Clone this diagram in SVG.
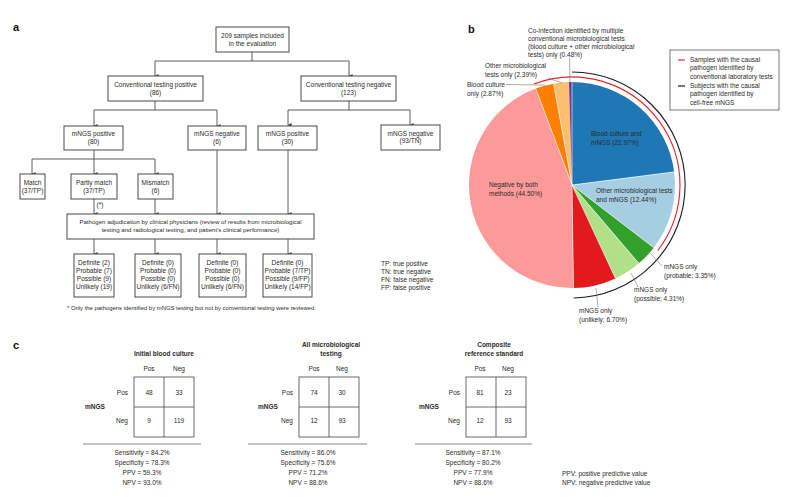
<svg xmlns="http://www.w3.org/2000/svg" width="786" height="497" viewBox="0 0 786 497">
<defs>
<marker id="ah" markerWidth="4" markerHeight="4" refX="2" refY="3.6" orient="auto-start-reverse" markerUnits="userSpaceOnUse" viewBox="0 0 4 4">
<path d="M0,0 L4,0 L2,4 Z" fill="#444"/>
</marker>
<style>
text{font-family:"Liberation Sans",Arial,sans-serif;fill:#2a2a2a}
.t{font-size:6.5px}
.a6{font-size:6.1px}
.s{font-size:5.9px}
.m{text-anchor:middle}
.e{text-anchor:end}
.b{font-weight:bold}
.lab{font-size:11px;font-weight:bold;fill:#111}
.box{fill:#fff;stroke:#4a4a4a;stroke-width:1}
.cn{fill:none;stroke:#4a4a4a;stroke-width:0.9}
.ar{marker-end:url(#ah)}
.ld{fill:none;stroke:#777;stroke-width:0.6}
.tb{fill:#fff;stroke:#444;stroke-width:0.8}
.hl{stroke:#8a8a8a;stroke-width:1.2}
</style>
</defs>
<rect width="786" height="497" fill="#fff"/>

<!-- Panel a -->
<text class="lab" x="13" y="31">a</text>
<g id="connectors">
<path class="cn" d="M252,52 V61 M155,61 H349"/>
<path class="cn ar" d="M155,61 V76"/>
<path class="cn ar" d="M349,61 V76"/>
<path class="cn" d="M155,101 V110 M94,110 H217"/>
<path class="cn ar" d="M94,110 V126"/>
<path class="cn ar" d="M217,110 V126"/>
<path class="cn" d="M349,101 V110 M288,110 H410"/>
<path class="cn ar" d="M288,110 V125"/>
<path class="cn ar" d="M410,110 V125"/>
<path class="cn" d="M94,150 V159 M32,159 H155"/>
<path class="cn ar" d="M32,159 V174"/>
<path class="cn ar" d="M94,159 V174"/>
<path class="cn ar" d="M155,159 V174"/>
<path class="cn ar" d="M94,199 V214"/>
<path class="cn ar" d="M155,199 V214"/>
<path class="cn ar" d="M217,150 V214"/>
<path class="cn ar" d="M288,150 V214"/>
<path class="cn ar" d="M94,239 V254"/>
<path class="cn ar" d="M155,239 V254"/>
<path class="cn ar" d="M217,239 V254"/>
<path class="cn ar" d="M288,239 V254"/>
</g>
<g id="n-total"><rect class="box" x="216" y="27" width="73" height="25"/>
<text class="t m" x="252.5" y="38">209 samples included</text><text class="t m" x="252.5" y="45.5">in the evaluation</text></g>
<g id="n-conv-pos"><rect class="box" x="108" y="76" width="95" height="25"/>
<text class="t m" x="155.5" y="86.5">Conventional testing positive</text><text class="t m" x="155.5" y="94.5">(86)</text></g>
<g id="n-conv-neg"><rect class="box" x="301" y="76" width="95" height="25"/>
<text class="t m" x="348.5" y="86.5">Conventional testing negative</text><text class="t m" x="348.5" y="94.5">(123)</text></g>
<g id="n-mngs-pos80"><rect class="box" x="64" y="126" width="59" height="24"/>
<text class="t m" x="93.5" y="136">mNGS positive</text><text class="t m" x="93.5" y="143.5">(80)</text></g>
<g id="n-mngs-neg6"><rect class="box" x="188" y="126" width="58" height="24"/>
<text class="t m" x="217" y="136">mNGS negative</text><text class="t m" x="217" y="143.5">(6)</text></g>
<g id="n-mngs-pos30"><rect class="box" x="258" y="126" width="59" height="24"/>
<text class="t m" x="287.5" y="136">mNGS positive</text><text class="t m" x="287.5" y="143.5">(30)</text></g>
<g id="n-mngs-neg93"><rect class="box" x="381" y="125" width="59" height="25"/>
<text class="t m" x="410.5" y="135.5">mNGS negative</text><text class="t m" x="410.5" y="143">(93/TN)</text></g>
<g id="n-match"><rect class="box" x="20" y="174" width="25" height="25"/>
<text class="t m" x="32.5" y="185">Match</text><text class="t m" x="32.5" y="192.5">(37/TP)</text></g>
<g id="n-partly"><rect class="box" x="71" y="174" width="46" height="25"/>
<text class="t m" x="94" y="185">Partly match</text><text class="t m" x="94" y="192.5">(37/TP)</text></g>
<g id="n-mismatch"><rect class="box" x="138" y="174" width="35" height="25"/>
<text class="t m" x="155.5" y="185">Mismatch</text><text class="t m" x="155.5" y="192.5">(6)</text></g>
<text class="t" x="96.5" y="207">(*)</text>
<g id="n-adjudication"><rect class="box" x="67" y="214" width="247" height="25"/>
<text class="a6 m" x="190.5" y="224">Pathogen adjudication by clinical physicians (review of results from microbiological</text>
<text class="a6 m" x="190.5" y="232">testing and radiological testing, and patient's clinical performance)</text></g>
<g id="n-res1"><rect class="box" x="74" y="254" width="40" height="43"/>
<text class="t m" x="94" y="265">Definite (2)</text><text class="t m" x="94" y="273">Probable (7)</text><text class="t m" x="94" y="281">Possible (9)</text><text class="t m" x="94" y="289">Unlikely (19)</text></g>
<g id="n-res2"><rect class="box" x="135" y="254" width="46" height="43"/>
<text class="t m" x="158" y="265">Definite (0)</text><text class="t m" x="158" y="273">Probable (0)</text><text class="t m" x="158" y="281">Possible (0)</text><text class="t m" x="158" y="289">Unlikely (6/FN)</text></g>
<g id="n-res3"><rect class="box" x="199" y="254" width="47" height="43"/>
<text class="t m" x="222.5" y="265">Definite (0)</text><text class="t m" x="222.5" y="273">Probable (0)</text><text class="t m" x="222.5" y="281">Possible (0)</text><text class="t m" x="222.5" y="289">Unlikely (6/FN)</text></g>
<g id="n-res4"><rect class="box" x="263" y="254" width="49" height="43"/>
<text class="t m" x="287.5" y="265">Definite (0)</text><text class="t m" x="287.5" y="273">Probable (7/TP)</text><text class="t m" x="287.5" y="281">Possible (9/FP)</text><text class="t m" x="287.5" y="289">Unlikely (14/FP)</text></g>
<text class="s" x="67" y="310">* Only the pathogens identified by mNGS testing but not by conventional testing were reviewed.</text>
<g id="abbrev-a">
<text class="t" x="381" y="265.5">TP: true positive</text>
<text class="t" x="381" y="273.5">TN: true negative</text>
<text class="t" x="381" y="281.5">FN: false negative</text>
<text class="t" x="381" y="289.5">FP: false positive</text>
</g>

<!-- Panel b -->
<text class="lab" x="468" y="33">b</text>
<g id="pie">
<path d="M572,185 L572,82 A103,103 0 0 1 674.16,171.90 Z" fill="#1f78b4"/>
<path d="M572,185 L674.16,171.90 A103,103 0 0 1 653.74,247.67 Z" fill="#a6cee3"/>
<path d="M572,185 L653.74,247.67 A103,103 0 0 1 638.84,263.37 Z" fill="#33a02c"/>
<path d="M572,185 L638.84,263.37 A103,103 0 0 1 615.45,278.39 Z" fill="#b2df8a"/>
<path d="M572,185 L615.45,278.39 A103,103 0 0 1 573.49,287.99 Z" fill="#e31a1c"/>
<path d="M572,185 L573.49,287.99 A103,103 0 0 1 535.72,88.60 Z" fill="#fb9a99"/>
<path d="M572,185 L535.72,88.60 A103,103 0 0 1 553.59,83.66 Z" fill="#ff7f00"/>
<path d="M572,185 L553.59,83.66 A103,103 0 0 1 568.96,82.05 Z" fill="#fdbf6f"/>
<path d="M572,185 L568.96,82.05 A103,103 0 0 1 572,82 Z" fill="#6a3d9a"/>
<path d="M572,185 L674.16,171.90 M572,185 L653.74,247.67 M572,185 L638.84,263.37 M572,185 L615.45,278.39 M572,185 L573.49,287.99 M572,185 L535.72,88.60 M572,185 L553.59,83.66 M572,185 L572,82" stroke="#fff" stroke-width="0.6" fill="none"/>
</g>
<g id="arcs">
<path d="M533.96,83.92 A108,108 0 0 1 657.71,250.71" fill="none" stroke="#e8242a" stroke-width="1.1"/>
<path d="M572,72 A113,113 0 0 1 573.63,297.99" fill="none" stroke="#1a1a1a" stroke-width="1.1"/>
</g>
<g id="pie-labels">
<text class="t" x="591" y="136">Blood culture and</text>
<text class="t" x="591" y="145">mNGS (22.97%)</text>
<text class="t" x="596" y="193">Other microbiological tests</text>
<text class="t" x="596" y="201.5">and mNGS (12.44%)</text>
<text class="t" x="489" y="187">Negative by both</text>
<text class="t" x="489" y="195.5">methods (44.50%)</text>
<path class="ld" d="M650,253 L662,266"/>
<text class="t" x="664" y="269">mNGS only</text>
<text class="t" x="664" y="277.5">(probable; 3.35%)</text>
<path class="ld" d="M631,273 L638,287"/>
<text class="t" x="634" y="292">mNGS only</text>
<text class="t" x="634" y="300.5">(possible; 4.31%)</text>
<path class="ld" d="M596,288 L598,307"/>
<text class="t" x="579" y="313">mNGS only</text>
<text class="t" x="579" y="321.5">(unlikely; 6.70%)</text>
<path class="ld" d="M506,84.5 L545,85"/>
<text class="t" x="467" y="87">Blood culture</text>
<text class="t" x="467" y="96">only (2.87%)</text>
<path class="ld" d="M548,78 L562,83"/>
<text class="t" x="485" y="68">Other microbiological</text>
<text class="t" x="485" y="76.5">tests only (2.39%)</text>
<path class="ld" d="M569.5,58 L570,82"/>
<text class="t" x="528" y="33">Co-infection identified by multiple</text>
<text class="t" x="528" y="41">conventional microbiological tests</text>
<text class="t" x="528" y="49">(blood culture + other microbiological</text>
<text class="t" x="528" y="57">tests) only (0.48%)</text>
</g>
<g id="legend-b">
<rect x="670" y="50" width="109" height="60" fill="#fff" stroke="#555" stroke-width="0.8"/>
<path d="M678,60 H685" stroke="#e8242a" stroke-width="1.2"/>
<text class="t" x="690" y="62">Samples with the causal</text>
<text class="t" x="690" y="70">pathogen identified by</text>
<text class="t" x="690" y="78.5">conventional laboratory tests</text>
<path d="M678,86 H685" stroke="#1a1a1a" stroke-width="1.2"/>
<text class="t" x="690" y="88">Subjects with the causal</text>
<text class="t" x="690" y="96">pathogen identified by</text>
<text class="t" x="690" y="104.5">cell-free mNGS</text>
</g>

<!-- Panel c -->
<text class="lab" x="13" y="349">c</text>
<g id="table-1">
<text class="t b m" x="164" y="356">Initial blood culture</text>
<text class="t m" x="149" y="371">Pos</text><text class="t m" x="179" y="371">Neg</text>
<rect class="tb" x="134" y="377" width="60" height="60"/>
<path d="M164,377 V437 M134,407 H194" stroke="#444" stroke-width="0.8"/>
<text class="t e" x="128" y="395">Pos</text><text class="t e" x="128" y="423">Neg</text>
<text class="t b" x="85" y="408.5">mNGS</text>
<text class="t m" x="149" y="395">48</text><text class="t m" x="179" y="395">33</text>
<text class="t m" x="149" y="423">9</text><text class="t m" x="179" y="423">119</text>
<path class="hl" d="M83,444 H201"/>
<text class="t m" x="142" y="455">Sensitivity = 84.2%</text>
<text class="t m" x="142" y="465">Specificity = 78.3%</text>
<text class="t m" x="142" y="475">PPV = 59.3%</text>
<text class="t m" x="142" y="485">NPV = 93.0%</text>
</g>
<g id="table-2">
<text class="t b m" x="331" y="347">All microbiological</text>
<text class="t b m" x="331" y="355.5">testing</text>
<text class="t m" x="314" y="371">Pos</text><text class="t m" x="342" y="371">Neg</text>
<rect class="tb" x="299" y="377" width="60" height="60"/>
<path d="M329,377 V437 M299,407 H359" stroke="#444" stroke-width="0.8"/>
<text class="t e" x="293" y="395">Pos</text><text class="t e" x="293" y="423">Neg</text>
<text class="t b" x="258" y="408.5">mNGS</text>
<text class="t m" x="314" y="395">74</text><text class="t m" x="342" y="395">30</text>
<text class="t m" x="314" y="423">12</text><text class="t m" x="342" y="423">93</text>
<path class="hl" d="M248,444 H367"/>
<text class="t m" x="308" y="455">Sensitivity = 86.0%</text>
<text class="t m" x="308" y="465">Specificity = 75.6%</text>
<text class="t m" x="308" y="475">PPV = 71.2%</text>
<text class="t m" x="308" y="485">NPV = 88.6%</text>
</g>
<g id="table-3">
<text class="t b m" x="494" y="347">Composite</text>
<text class="t b m" x="494" y="355.5">reference standard</text>
<text class="t m" x="480" y="371">Pos</text><text class="t m" x="508" y="371">Neg</text>
<rect class="tb" x="466" y="377" width="60" height="60"/>
<path d="M496,377 V437 M466,407 H526" stroke="#444" stroke-width="0.8"/>
<text class="t e" x="460" y="395">Pos</text><text class="t e" x="460" y="423">Neg</text>
<text class="t b" x="419" y="408.5">mNGS</text>
<text class="t m" x="480" y="395">81</text><text class="t m" x="508" y="395">23</text>
<text class="t m" x="480" y="423">12</text><text class="t m" x="508" y="423">93</text>
<path class="hl" d="M415,444 H532"/>
<text class="t m" x="473" y="455">Sensitivity = 87.1%</text>
<text class="t m" x="473" y="465">Specificity = 80.2%</text>
<text class="t m" x="473" y="475">PPV = 77.9%</text>
<text class="t m" x="473" y="485">NPV = 88.6%</text>
</g>
<g id="abbrev-c">
<text class="t" x="562" y="476">PPV: positive predictive value</text>
<text class="t" x="562" y="485">NPV: negative predictive value</text>
</g>
</svg>
